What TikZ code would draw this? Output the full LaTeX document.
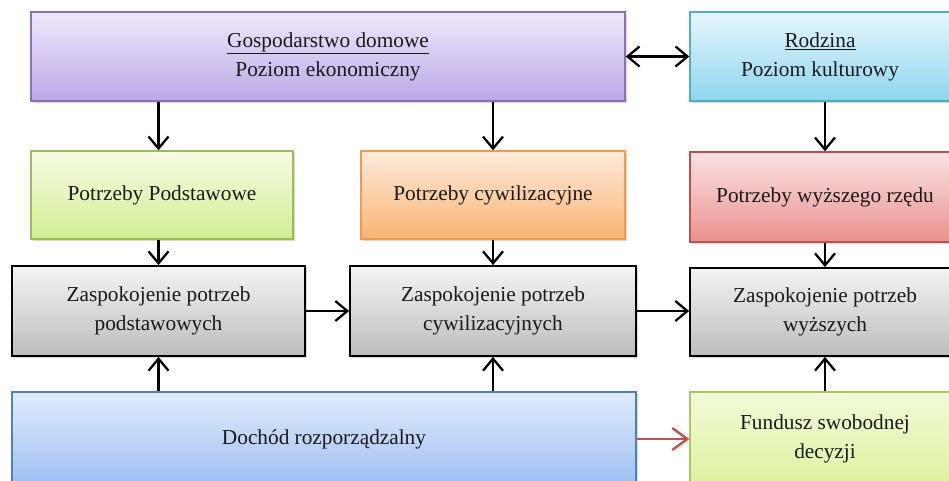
\documentclass[tikz,border=0pt]{standalone}
\usepackage{fontspec}
\setmainfont{Liberation Serif}
\usetikzlibrary{arrows.meta,shadows}

% box palettes: border, top shade, bottom shade
\definecolor{purpleBd}{HTML}{8A70B8}
\definecolor{purpleTop}{HTML}{EEE9FA}
\definecolor{purpleBot}{HTML}{BBA8E6}
\definecolor{cyanBd}{HTML}{4FADC8}
\definecolor{cyanTop}{HTML}{E6F6FC}
\definecolor{cyanBot}{HTML}{8ED6EE}
\definecolor{greenBd}{HTML}{9DBB5A}
\definecolor{greenTop}{HTML}{F6FBE4}
\definecolor{greenBot}{HTML}{D2EE92}
\definecolor{orangeBd}{HTML}{F39A4C}
\definecolor{orangeTop}{HTML}{FDEBDD}
\definecolor{orangeBot}{HTML}{F9B473}
\definecolor{redBd}{HTML}{C0504D}
\definecolor{redTop}{HTML}{FAE3E3}
\definecolor{redBot}{HTML}{E8918E}
\definecolor{grayTop}{HTML}{F4F4F4}
\definecolor{grayBot}{HTML}{BDBDBD}
\definecolor{blueBd}{HTML}{4F81BD}
\definecolor{blueTop}{HTML}{E2EBFA}
\definecolor{blueBot}{HTML}{9CC0F2}
\definecolor{limeBd}{HTML}{A8C85E}
\definecolor{limeTop}{HTML}{F2FADA}
\definecolor{limeBot}{HTML}{DDF29E}
\definecolor{arrowRed}{HTML}{C0504D}
\definecolor{ink}{HTML}{1A1A1A}

\begin{document}
\begin{tikzpicture}[x=1pt,y=-1pt,
  box/.style={draw, line width=1.4pt, align=center, inner sep=0pt,
    text=ink, font=\fontsize{21.3}{29}\selectfont,
    drop shadow={shadow xshift=1.5pt, shadow yshift=-2pt, opacity=0.3}},
  purplebox/.style={box, draw=purpleBd, top color=purpleTop, bottom color=purpleBot},
  cyanbox/.style={box, draw=cyanBd, top color=cyanTop, bottom color=cyanBot},
  greenbox/.style={box, draw=greenBd, top color=greenTop, bottom color=greenBot},
  orangebox/.style={box, draw=orangeBd, top color=orangeTop, bottom color=orangeBot},
  redbox/.style={box, draw=redBd, top color=redTop, bottom color=redBot},
  graybox/.style={box, draw=black, line width=1.8pt, top color=grayTop, bottom color=grayBot},
  bluebox/.style={box, draw=blueBd, top color=blueTop, bottom color=blueBot},
  limebox/.style={box, draw=limeBd, top color=limeTop, bottom color=limeBot},
  barb/.style={Straight Barb[length=12pt,width=20pt,line width=2.3pt]},
  arr/.style={draw=black, line width=2.5pt, -{Straight Barb[length=12pt,width=20pt,line width=2.3pt]}},
  dblarr/.style={draw=black, line width=2.5pt,
    {Straight Barb[length=12pt,width=20pt,line width=2.3pt]}-{Straight Barb[length=12pt,width=20pt,line width=2.3pt]}},
  redarr/.style={draw=arrowRed, line width=2.5pt,
    -{Straight Barb[length=15pt,width=22pt,line width=2.4pt]}}
]
\useasboundingbox[fill=white] (0,0) rectangle (949,480);

% top row: household and family
\node[purplebox, minimum width=594pt, minimum height=89pt] (hh) at (328,56.5)
  {\underline{Gospodarstwo domowe}\\Poziom ekonomiczny};
\node[cyanbox, minimum width=260pt, minimum height=89pt] (rodz) at (820,56.5)
  {\underline{Rodzina}\\Poziom kulturowy};

% needs
\node[greenbox, minimum width=262pt, minimum height=88pt] (pp) at (162,195)
  {Potrzeby Podstawowe};
\node[orangebox, minimum width=264pt, minimum height=88pt] (pc) at (493,195)
  {Potrzeby cywilizacyjne};
\node[redbox, minimum width=270pt, minimum height=90pt] (pw) at (825,197)
  {Potrzeby wyższego rzędu};

% satisfaction of needs
\node[graybox, minimum width=293pt, minimum height=90pt] (zp) at (158.5,311)
  {Zaspokojenie potrzeb\\podstawowych};
\node[graybox, minimum width=286pt, minimum height=90pt] (zc) at (493,311)
  {Zaspokojenie potrzeb\\cywilizacyjnych};
\node[graybox, minimum width=270pt, minimum height=88pt] (zw) at (825,312)
  {Zaspokojenie potrzeb\\wyższych};

% income
\node[bluebox, minimum width=624pt, minimum height=94pt] (doch) at (324,439)
  {Dochód rozporządzalny};
\node[limebox, minimum width=270pt, minimum height=94pt] (fund) at (825,439)
  {Fundusz swobodnej\\decyzji};

% connectors
\draw[dblarr] (hh.east) -- (rodz.west);
\draw[arr] (hh.south -| zp.north) -- (pp.north -| zp.north);
\draw[arr] (hh.south -| pc.north) -- (pc.north);
\draw[arr] (rodz.south -| pw.north) -- (pw.north);
\draw[arr] (pp.south -| zp.north) -- (zp.north);
\draw[arr] (pc.south) -- (zc.north);
\draw[arr] (pw.south) -- (zw.north);
\draw[arr] (zp.east) -- (zc.west);
\draw[arr] (zc.east) -- (zc.east -| zw.west);
\draw[arr] (doch.north -| zp.south) -- (zp.south);
\draw[arr] (doch.north -| zc.south) -- (zc.south);
\draw[arr] (fund.north) -- (zw.south);
\draw[redarr] (doch.east) -- (fund.west);
\end{tikzpicture}
\end{document}
